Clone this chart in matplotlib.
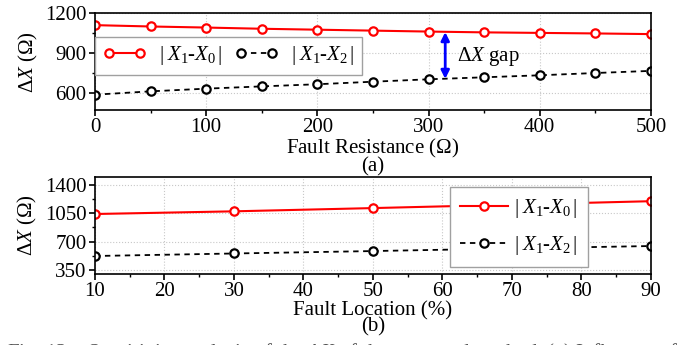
import numpy as np
import matplotlib
matplotlib.use('Agg')
from matplotlib import pyplot as plt
from matplotlib.ticker import MultipleLocator

plt.rcParams['font.family'] = ['Liberation Serif', 'DejaVu Serif']
plt.rcParams['mathtext.fontset'] = 'custom'
plt.rcParams['mathtext.rm'] = 'Liberation Serif'
plt.rcParams['mathtext.it'] = 'Liberation Serif:italic'
plt.rcParams['font.size'] = 15

# (a) fault resistance sweep
res = [0, 50, 100, 150, 200, 250, 300, 350, 400, 450, 500]
res_x10 = [1110, 1100, 1092, 1083, 1076, 1069, 1062, 1056, 1052, 1048, 1043]
res_x12 = [590, 615, 635, 652, 668, 687, 705, 720, 735, 752, 768]

# (b) fault location sweep
loc = [10, 30, 50, 70, 90]
loc_x10 = [1040, 1073, 1113, 1155, 1198]
loc_x12 = [522, 553, 583, 615, 645]

lab10 = r'$|\;X_{\mathit{1}}$-$X_{\mathit{0}}\,|$'
lab12 = r'$|\;X_{\mathit{1}}$-$X_{\mathit{2}}\,|$'

fig = plt.figure(figsize=(6.94, 3.45), dpi=100)
ax1 = fig.add_axes([0.1369, 0.681, 0.801, 0.281])
ax2 = fig.add_axes([0.1369, 0.2058, 0.801, 0.282])

red_kw = dict(color='red', lw=1.5, marker='o', ms=6, mfc='white', mec='red', mew=1.6)
blk_kw = dict(color='black', lw=1.3, ls=(0, (3, 2.5)), marker='o', ms=6,
              mfc='white', mec='black', mew=1.6)

for ax in (ax1, ax2):
    ax.grid(True, which='major', color='#c8c8c8', ls=':', lw=0.8)
    ax.tick_params(which='major', direction='out', length=4, width=1.2, pad=2)
    ax.tick_params(which='minor', direction='out', length=2.5, width=1.0)
    for s in ax.spines.values():
        s.set_linewidth(1.2)
    ax.set_axisbelow(True)

ax1.plot(res, res_x10, label=lab10, **red_kw)
ax1.plot(res, res_x12, label=lab12, **blk_kw)
ax1.set_xlim(0, 500)
ax1.set_ylim(475, 1200)
ax1.xaxis.set_major_locator(MultipleLocator(100))
ax1.xaxis.set_minor_locator(MultipleLocator(50))
ax1.yaxis.set_major_locator(MultipleLocator(300))
ax1.yaxis.set_minor_locator(MultipleLocator(150))
ax1.set_ylabel(r'$\Delta X$ ($\Omega$)', labelpad=4)
ax1.set_xlabel('Fault Resistance ($\\Omega$)\n(a)', labelpad=0, linespacing=0.8)
leg1 = ax1.legend(ncol=2, loc='upper left', bbox_to_anchor=(0.0, 0.753),
                  fontsize=15, frameon=True, fancybox=False, edgecolor='#a0a0a0',
                  framealpha=1, numpoints=2, handlelength=2.1, columnspacing=0.6,
                  handletextpad=0.6, borderpad=0.35, borderaxespad=0)

ax1.annotate('', xy=(315, 1058), xytext=(315, 708),
             arrowprops=dict(arrowstyle='<|-|>', color='blue', lw=2,
                             mutation_scale=12, shrinkA=0, shrinkB=0))
ax1.text(326, 872, r'$\Delta X$ gap', fontsize=15, va='center', ha='left')

ax2.plot(loc, loc_x10, label=lab10, **red_kw)
ax2.plot(loc, loc_x12, label=lab12, **blk_kw)
ax2.set_xlim(10, 90)
ax2.set_ylim(300, 1500)
ax2.xaxis.set_major_locator(MultipleLocator(10))
ax2.xaxis.set_minor_locator(MultipleLocator(5))
ax2.set_yticks([350, 700, 1050, 1400])
ax2.yaxis.set_minor_locator(MultipleLocator(175))
ax2.set_ylabel(r'$\Delta X$ ($\Omega$)', labelpad=4)
ax2.set_xlabel('Fault Location (%)\n(b)', labelpad=0, linespacing=0.8)
leg2 = ax2.legend(loc='upper left', bbox_to_anchor=(0.638, 0.894),
                  fontsize=15, frameon=True, fancybox=False, edgecolor='#a0a0a0',
                  framealpha=1, numpoints=1, handlelength=2.3, labelspacing=0.65,
                  handletextpad=0.3, borderpad=0.5, borderaxespad=0)
leg2.set_zorder(5)

fig.text(0.01, 1 - 341 / 345,
         'Fig. 13.   Sensitivity analysis of the $\\Delta X$ of the proposed method. (a) Influence of',
         ha='left', va='top', fontsize=15, color='#555555')

fig.savefig('out.png', dpi=100)
